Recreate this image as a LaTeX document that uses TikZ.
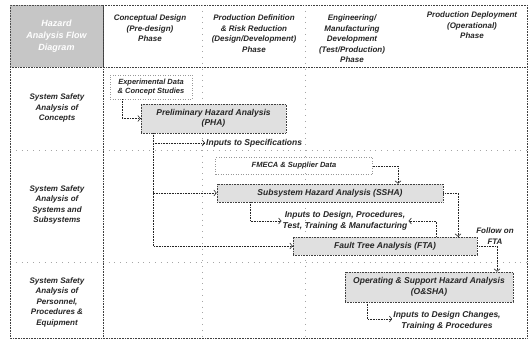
\documentclass[tikz,border=0pt]{standalone}
\usepackage{fontspec}
\setmainfont{Liberation Sans}
\usetikzlibrary{arrows.meta}
\begin{document}
\begin{tikzpicture}[x=1pt,y=-1pt,
  every node/.style={font=\bfseries\itshape\fontsize{8}{10.5}\selectfont, align=center, inner sep=1pt, text=black!85},
  bodytext/.style={font=\bfseries\itshape\fontsize{8.5}{10.5}\selectfont},
  frameline/.style={densely dotted, line width=0.6pt, black!75},
  faint/.style={dash pattern=on 0.8pt off 5pt, line width=0.5pt, gray!70},
  gbox/.style={draw=black!75, densely dotted, line width=0.6pt, fill=gray!24, bodytext},
  wbox/.style={draw=gray!80, dotted, line width=0.5pt, font=\bfseries\itshape\fontsize{7.5}{9.5}\selectfont},
  hbox/.style={draw=black!70, densely dotted, line width=0.6pt, fill=gray!45, text=white, font=\bfseries\itshape\fontsize{9}{12}\selectfont},
  conn/.style={densely dotted, line width=0.6pt, black!85, -{Straight Barb[length=2.5pt,width=6pt]}},
]
\useasboundingbox (0,0) rectangle (531,342);
\fill[white] (0,0) rectangle (531,342);

% frame and grid
\draw[frameline] (10,5) rectangle (527,338);
\node[hbox, minimum width=93, minimum height=62] (hdr) at (56.5,36) {Hazard\\Analysis Flow\\Diagram};
\draw[frameline] (10,67) -- (527,67);
\draw[frameline] (103,5) -- (103,338);
\draw[faint] (202,5) -- (202,338);
\draw[faint] (305,5) -- (305,338);
\draw[faint] (10,150) -- (527,150);
\draw[faint] (10,262) -- (527,262);

% column headers
\node[anchor=north] (c1) at (150,14) {Conceptual Design\\(Pre-design)\\Phase};
\node[anchor=north] (c2) at (254,14) {Production Definition\\\& Risk Reduction\\(Design/Development)\\Phase};
\node[anchor=north] (c3) at (352,14) {Engineering/\\Manufacturing\\Development\\(Test/Production)\\Phase};
\node[anchor=north] (c4) at (472,11) {Production Deployment\\(Operational)\\Phase};

% row labels
\node (r1) at (57,108) {System Safety\\Analysis of\\Concepts};
\node (r2) at (57,205) {System Safety\\Analysis of\\Systems and\\Subsystems};
\node (r3) at (57,302) {System Safety\\Analysis of\\Personnel,\\Procedures \&\\Equipment};

% boxes
\node[wbox, minimum width=82, minimum height=24] (exp) at (151,87) {Experimental Data\\\& Concept Studies};
\node[gbox, minimum width=145, minimum height=29] (pha) at (213.5,118.5) {Preliminary Hazard Analysis\\(PHA)};
\node[bodytext, anchor=west] (spec) at (205,143) {Inputs to Specifications};
\node[wbox, minimum width=157, minimum height=17] (fmeca) at (294,166) {FMECA \& Supplier Data};
\node[gbox, minimum width=226, minimum height=18] (ssha) at (330,193) {Subsystem Hazard Analysis (SSHA)};
\node[bodytext] (inpd) at (345,221) {Inputs to Design, Procedures,\\Test, Training \& Manufacturing};
\node[gbox, minimum width=184, minimum height=18] (fta) at (385,246) {Fault Tree Analysis (FTA)};
\node (follow) at (495,236) {Follow on\\FTA};
\node[gbox, minimum width=168, minimum height=30] (osha) at (429,287) {Operating \& Support Hazard Analysis\\(O\&SHA)};
\node[bodytext] (inpc) at (447,321) {Inputs to Design Changes,\\Training \& Procedures};

% connectors
\draw[conn] ([xshift=-29pt]exp.south) |- (pha.west);
\draw[conn] ([xshift=-60.5pt]pha.south) |- (spec.west);
\draw[conn] ([xshift=-60.5pt]pha.south) |- (ssha.west);
\draw[conn] ([xshift=-60.5pt]pha.south) |- (fta.west);
\draw[conn] (fmeca.east) -| ([xshift=68pt]ssha.north);
\draw[conn] ([xshift=-80pt]ssha.south) |- (inpd.west);
\draw[conn] (ssha.east) -| ([xshift=73pt]fta.north);
\draw[conn] ([xshift=51pt]fta.north) |- (inpd.east);
\draw[conn] (fta.east) -| ([xshift=68pt]osha.north);
\draw[conn] ([xshift=-62pt]osha.south) |- ([yshift=2pt]inpc.west);
\end{tikzpicture}
\end{document}
